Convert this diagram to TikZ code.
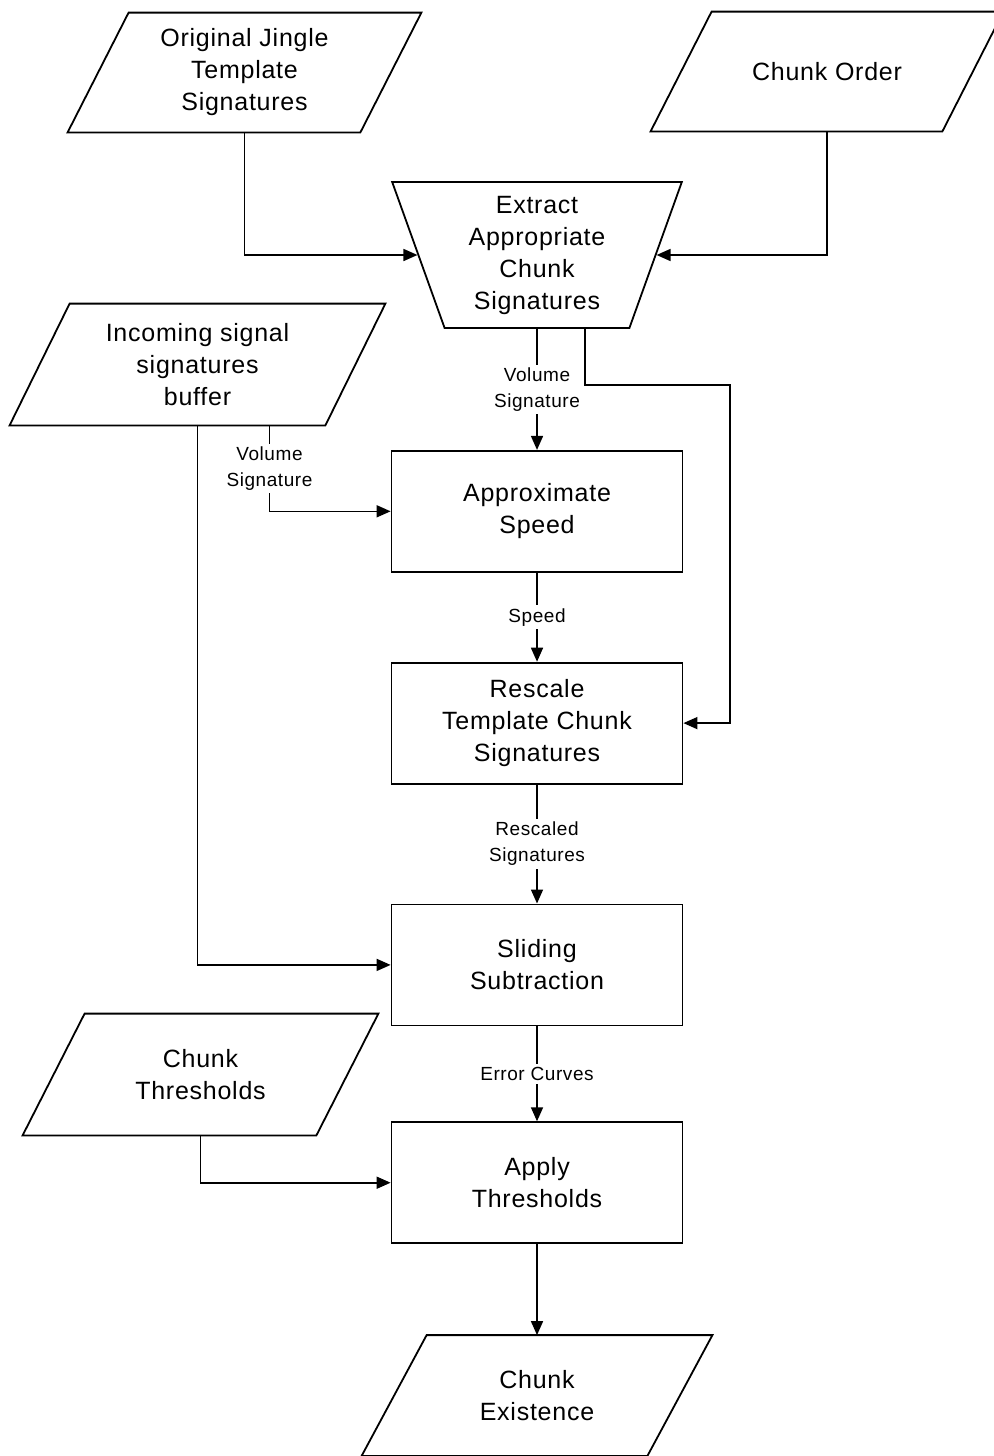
\documentclass[tikz,border=0pt]{standalone}
\usepackage{fontspec}
\setmainfont{Liberation Sans}[LetterSpace=3]
\usetikzlibrary{shapes.geometric, arrows.meta, positioning}
\tikzset{
  datos/.style={rectangle, minimum height=60pt, align=center,
    font=\fontsize{12.5}{16}\selectfont,
    append after command={\pgfextra{\let\datnodo=\tikzlastnode
      \draw[line width=0.9pt] ([xshift=#1]\datnodo.north west)
        -- (\datnodo.north east) -- ([xshift=-#1]\datnodo.south east)
        -- (\datnodo.south west) -- cycle;}}},
  datos/.default=30.5pt,
  proceso/.style={rectangle, draw, line width=0.9pt, minimum width=145.5pt,
    minimum height=60.5pt, align=center, font=\fontsize{12.5}{16}\selectfont},
  extraer/.style={trapezium, shape border rotate=180, trapezium angle=72,
    trapezium stretches=true, draw, line width=0.9pt, minimum width=145pt,
    minimum height=73pt, align=center, inner sep=2pt,
    font=\fontsize{12.5}{16}\selectfont},
  flecha/.style={-{Triangle[length=7pt, width=6pt]}, line width=0.8pt},
  etiq/.style={font=\fontsize{9.5}{13}\selectfont, fill=white, inner sep=1.5pt,
    align=center}
}
\begin{document}
\begin{tikzpicture}[x=0.5pt, y=-0.5pt]
  \useasboundingbox (0,0) rectangle (994,1456);
  \node[datos, minimum width=176.5pt, minimum height=59.5pt] (orig) at (244.5,72.5)
    {Original Jingle\\Template\\Signatures};
  \node[datos, minimum width=176pt, minimum height=59.5pt] (orden) at (827,71.5)
    {Chunk Order};
  \node[extraer] (ext) at (537,255)
    {Extract\\Appropriate\\Chunk\\Signatures};
  \node[datos=30pt, minimum width=187.5pt, minimum height=60.5pt] (buf) at (197.5,364.5)
    {Incoming signal\\signatures\\buffer};
  \node[proceso, below=60.5pt of ext] (vel) {Approximate\\Speed};
  \node[proceso, below=44.5pt of vel] (resc) {Rescale\\Template Chunk\\Signatures};
  \node[proceso, below=59.5pt of resc] (desl) {Sliding\\Subtraction};
  \node[proceso, below=47.5pt of desl] (umb) {Apply\\Thresholds};
  \node[datos=31pt, minimum width=177.5pt, minimum height=60.5pt] (chthr) at (200.5,1074.5)
    {Chunk\\Thresholds};
  \node[datos=32.5pt, minimum width=175pt, below=45.5pt of umb] (exist)
    {Chunk\\Existence};
  \coordinate (codo) at (730,385);
  \draw[flecha] (orig.south) |- (ext.west);
  \draw[flecha] (orden.south) |- (ext.east);
  \draw[flecha] (ext) -- node[etiq]{Volume\\Signature} (vel);
  \draw[flecha] ([xshift=24pt]ext.south) |- (codo) |- (resc.east);
  \draw[flecha] ([xshift=36pt]buf.south) |- node[etiq, pos=0.25]{Volume\\Signature} (vel.west);
  \draw[flecha] (buf.south) |- (desl.west);
  \draw[flecha] (vel) -- node[etiq]{Speed} (resc);
  \draw[flecha] (resc) -- node[etiq]{Rescaled\\Signatures} (desl);
  \draw[flecha] (desl) -- node[etiq]{Error Curves} (umb);
  \draw[flecha] (chthr.south) |- (umb.west);
  \draw[flecha] (umb) -- (exist);
\end{tikzpicture}
\end{document}
